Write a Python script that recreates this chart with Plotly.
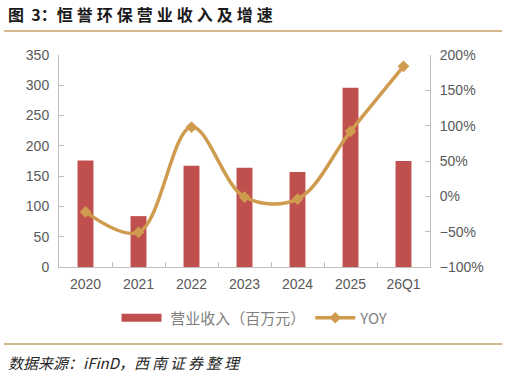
import plotly.graph_objects as go

categories = ["2020", "2021", "2022", "2023", "2024", "2025", "26Q1"]
revenue = [176, 84, 167, 164, 157, 296, 175]
yoy = [-22, -51, 98, -1, -4, 92, 184]

W, H = 508, 378
L, R, T, B = 59, 430, 55, 267
pw, ph = R - L, B - T

def px(x):
    return (x - L) / pw

def py(y):
    return (B - y) / ph

bar_color = "#C0504D"
line_color = "#CF9B4E"
tick_color = "#595959"
axis_color = "#BFBFBF"

fig = go.Figure()
fig.add_trace(go.Bar(
    x=categories, y=revenue, name="营业收入（百万元）", showlegend=False,
    marker=dict(color=bar_color, line=dict(width=0)), width=0.3,
))
fig.add_trace(go.Scatter(
    x=[None], y=[None], name="\u2005营业收入（百万元）", mode="lines",
    line=dict(color=bar_color, width=8),
))
fig.add_trace(go.Scatter(
    x=categories, y=yoy, name="YOY", yaxis="y2",
    mode="lines+markers", line=dict(color=line_color, width=3.5, shape="spline", smoothing=1.0),
    marker=dict(symbol="diamond", size=9, color=line_color),
))

sp = "\u2005"
title_txt = "图\u00a0\u00a03：" + sp.join("恒誉环保营业收入及增速")
source_txt = "数据来源：iFinD，" + "\u2009".join("西南证券整理")

fig.update_layout(
    width=W, height=H,
    margin=dict(l=L, r=W - R, t=T, b=H - B),
    paper_bgcolor="white", plot_bgcolor="white",
    font=dict(family="Liberation Sans, Arial, Noto Sans CJK SC", size=14, color=tick_color),
    showlegend=True,
    bargap=0.7,
    xaxis=dict(
        type="category", showline=True, linecolor=axis_color, linewidth=1,
        ticks="inside", ticklen=5, tickcolor=axis_color, tickson="boundaries",
        tickfont=dict(size=14, color=tick_color), showgrid=False, fixedrange=True,
        ticklabelstandoff=4,
    ),
    yaxis=dict(
        range=[0, 350], dtick=50, showline=True, linecolor=axis_color, linewidth=1,
        ticks="inside", ticklen=5, tickcolor=axis_color, showgrid=False, zeroline=False,
        tickfont=dict(size=14, color=tick_color), ticklabelstandoff=6,
    ),
    yaxis2=dict(
        range=[-100, 200], dtick=50, overlaying="y", side="right", showline=True,
        linecolor=axis_color, linewidth=1, ticks="inside", ticklen=5, tickcolor=axis_color,
        showgrid=False, zeroline=False, ticksuffix="%", ticklabelstandoff=6,
        tickfont=dict(size=14, color=tick_color),
    ),
    legend=dict(
        orientation="h", x=px(255), xanchor="center", y=py(318), yanchor="middle",
        font=dict(size=15, color="#7F7F7F", family="Noto Sans CJK SC, Liberation Sans"),
        itemwidth=40, tracegroupgap=0, bgcolor="rgba(0,0,0,0)",
    ),
)

fig.add_annotation(
    text="<b>" + title_txt + "</b>", xref="paper", yref="paper",
    x=px(6), y=py(14), xanchor="left", yanchor="middle", showarrow=False,
    font=dict(size=16, color="#1A1A1A", family="Noto Sans CJK SC"),
)
fig.add_annotation(
    text="<i>" + source_txt + "</i>", xref="paper", yref="paper",
    x=px(6), y=py(362), xanchor="left", yanchor="middle", showarrow=False,
    font=dict(size=15, color="#262626", family="Noto Sans CJK SC"),
)
fig.add_shape(type="line", xref="paper", yref="paper", x0=px(4), x1=px(502), y0=py(31), y1=py(31),
              line=dict(color="#C8A06A", width=1.5))
fig.add_shape(type="line", xref="paper", yref="paper", x0=px(4), x1=px(502), y0=py(344), y1=py(344),
              line=dict(color="#C8A06A", width=1.5))

fig.write_html("out.html")
